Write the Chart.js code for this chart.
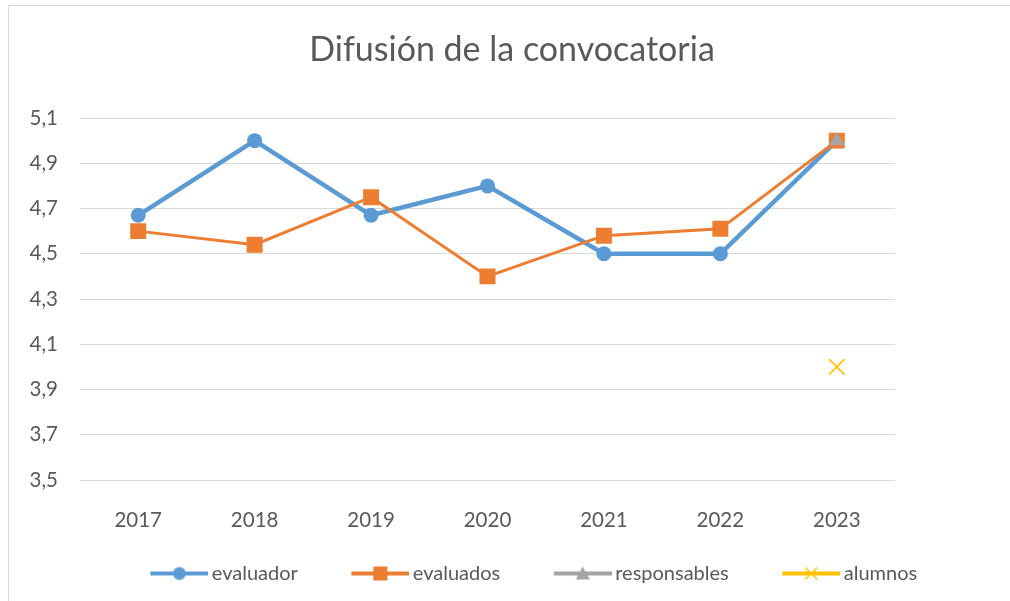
<!DOCTYPE html>
<html>
<head>
<meta charset="utf-8">
<script src="https://cdn.jsdelivr.net/npm/chart.js@4.4.0/dist/chart.umd.min.js"></script>
<style>
  html, body { margin: 0; padding: 0; background: #fff; }
  canvas { display: block; }
</style>
</head>
<body>
<canvas id="myChart" width="1010" height="601"></canvas>
<script>
const categories = ['2017', '2018', '2019', '2020', '2021', '2022', '2023'];
const evaluador = [4.67, 5.0, 4.67, 4.8, 4.5, 4.5, 5.0];
const evaluados = [4.6, 4.54, 4.75, 4.4, 4.58, 4.61, 5.0];
const responsables = [null, null, null, null, null, null, 5.0];
const alumnos = [null, null, null, null, null, null, 4.0];
const yTicks = [3.5, 3.7, 3.9, 4.1, 4.3, 4.5, 4.7, 4.9, 5.1];

const textColor = '#595959';
const BOX_W = 95;

// legend swatch: line with marker, only the right 58px visible
function legendImage(color, marker) {
    const c = document.createElement('canvas');
    c.width = BOX_W + 13;
    c.height = 18;
    const g = c.getContext('2d');
    const x0 = c.width - 58, cx = c.width - 29, cy = 9;
    g.strokeStyle = color;
    g.fillStyle = color;
    g.lineWidth = 4;
    g.beginPath();
    g.moveTo(x0, cy);
    g.lineTo(c.width, cy);
    g.stroke();
    if (marker === 'circle') {
        g.beginPath();
        g.arc(cx, cy, 6.5, 0, Math.PI * 2);
        g.fill();
    } else if (marker === 'rect') {
        g.fillRect(cx - 7, cy - 7, 14, 14);
    } else if (marker === 'triangle') {
        g.beginPath();
        g.moveTo(cx, cy - 7);
        g.lineTo(cx + 7, cy + 6);
        g.lineTo(cx - 7, cy + 6);
        g.closePath();
        g.fill();
    } else {
        g.lineWidth = 1.5;
        g.beginPath();
        g.moveTo(cx - 6, cy - 6); g.lineTo(cx + 6, cy + 6);
        g.moveTo(cx + 6, cy - 6); g.lineTo(cx - 6, cy + 6);
        g.stroke();
    }
    return c;
}

const frame = {
    id: 'frame',
    beforeDraw(chart) {
        const ctx = chart.ctx;
        ctx.save();
        ctx.fillStyle = '#fff';
        ctx.fillRect(0, 0, chart.width, chart.height);
        ctx.strokeStyle = '#d9d9d9';
        ctx.lineWidth = 1;
        ctx.beginPath();
        ctx.moveTo(8.5, chart.height);
        ctx.lineTo(8.5, 5.5);
        ctx.lineTo(chart.width, 5.5);
        ctx.stroke();
        ctx.restore();
    }
};

const ctx = document.getElementById('myChart');
const myChart = new Chart(ctx, {
    type: 'line',
    data: {
        labels: categories,
        datasets: [{
            label: 'evaluador',
            data: evaluador,
            borderColor: '#5B9BD5',
            backgroundColor: '#5B9BD5',
            borderWidth: 4.5,
            pointStyle: 'circle',
            pointRadius: 7.5,
            pointBorderWidth: 0,
            legendMarker: 'circle',
            order: 3
        }, {
            label: 'evaluados',
            data: evaluados,
            borderColor: '#ED7D31',
            backgroundColor: '#ED7D31',
            borderWidth: 3,
            pointStyle: 'rect',
            pointRadius: 11.3,
            pointBorderWidth: 0,
            legendMarker: 'rect',
            order: 2
        }, {
            label: 'responsables',
            data: responsables,
            borderColor: '#A5A5A5',
            backgroundColor: '#A5A5A5',
            borderWidth: 4,
            pointStyle: 'triangle',
            pointRadius: 9,
            pointBorderWidth: 0,
            legendMarker: 'triangle',
            order: 1
        }, {
            label: 'alumnos',
            data: alumnos,
            borderColor: '#FFC000',
            backgroundColor: '#FFC000',
            borderWidth: 4,
            pointStyle: 'crossRot',
            pointRadius: 11,
            pointBorderWidth: 1.5,
            pointBorderColor: '#FFC000',
            legendMarker: 'cross',
            order: 0
        }]
    },
    options: {
        responsive: false,
        animation: false,
        layout: {
            padding: { left: 14, right: 0, top: 14, bottom: 7.5 }
        },
        plugins: {
            title: {
                display: true,
                text: 'Difusión de la convocatoria',
                color: textColor,
                font: { family: 'Lato', size: 34, weight: 'normal' },
                padding: { top: 15.6, bottom: 47.6 }
            },
            legend: {
                position: 'bottom',
                labels: {
                    usePointStyle: true,
                    pointStyleWidth: BOX_W,
                    boxHeight: 18,
                    padding: 10,
                    color: textColor,
                    font: { family: 'Lato', size: 20 },
                    generateLabels(chart) {
                        return chart.data.datasets.map((ds, i) => ({
                            text: ds.label,
                            fontColor: textColor,
                            pointStyle: legendImage(ds.borderColor, ds.legendMarker),
                            strokeStyle: 'transparent',
                            fillStyle: 'transparent',
                            lineWidth: 0,
                            datasetIndex: i,
                            hidden: false
                        }));
                    }
                }
            },
            tooltip: { enabled: false }
        },
        scales: {
            x: {
                offset: true,
                grid: { display: false },
                border: { display: false },
                ticks: {
                    color: textColor,
                    font: { family: 'Lato', size: 20.5 },
                    padding: 20
                },
                afterFit(s) { s.height = 73.5; }
            },
            y: {
                min: 3.5,
                max: 5.1,
                grid: { color: '#d9d9d9', drawTicks: false },
                border: { display: false },
                afterBuildTicks(s) { s.ticks = yTicks.map(v => ({ value: v })); },
                ticks: {
                    color: textColor,
                    font: { family: 'Lato', size: 20.5 },
                    padding: 22,
                    callback: v => v.toFixed(1).replace('.', ',')
                },
                afterFit(s) { s.width = 66; }
            },
            y2: {
                type: 'linear',
                position: 'right',
                grid: { display: false },
                border: { display: false },
                ticks: { display: false },
                afterFit(s) { s.width = 115; }
            }
        }
    },
    plugins: [frame]
});
</script>
</body>
</html>
